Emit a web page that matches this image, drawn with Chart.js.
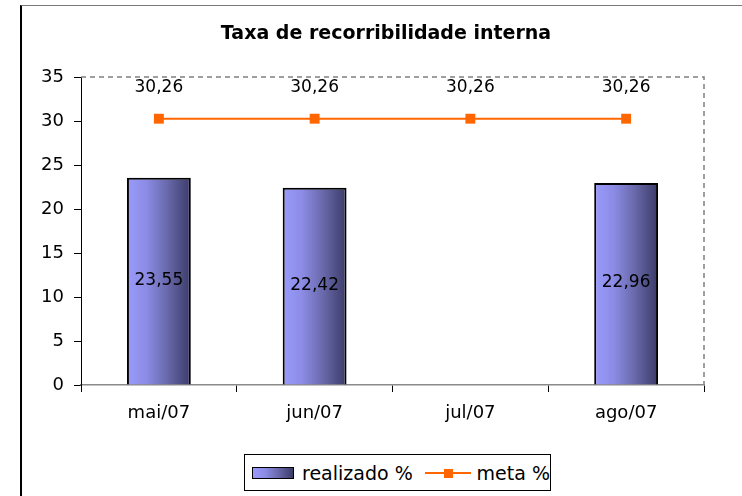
<!DOCTYPE html>
<html>
<head>
<meta charset="utf-8">
<script src="https://cdn.jsdelivr.net/npm/chart.js@4.4.1/dist/chart.umd.min.js"></script>
<style>
html,body{margin:0;padding:0;background:#fff;}
#wrap{position:relative;width:742px;height:496px;overflow:hidden;background:#fff;}
#frame{position:absolute;left:20px;top:5px;width:800px;height:600px;border-left:2px solid #000;border-top:1px solid #7a7a7a;box-sizing:border-box;}
#c{position:absolute;left:0;top:0;}
#legend{position:absolute;left:244px;top:454px;width:307px;height:37px;box-sizing:border-box;border:1px solid #000;background:#fff;font-family:"DejaVu Sans",sans-serif;font-size:19px;color:#000;display:flex;align-items:center;white-space:nowrap;}
.sw{display:inline-block;margin-left:7px;width:43px;height:12px;box-sizing:border-box;border:1.5px solid #000;background:linear-gradient(to right,#9a9afc 0%,#8c8ce6 30%,#6a6aad 62%,#3b3b68 100%);}
.lbl{margin-left:8px;}
.ln{display:inline-block;position:relative;width:47px;height:12px;margin-left:12px;}
.ln:before{content:"";position:absolute;left:0;right:0;top:5px;height:2px;background:#ff6600;}
.ln:after{content:"";position:absolute;left:19px;top:2px;width:9px;height:9px;background:#ff6600;}
</style>
</head>
<body>
<div id="wrap">
  <div id="frame"></div>
  <canvas id="c" width="742" height="496"></canvas>
  <div id="legend"><span class="sw"></span><span class="lbl">realizado %</span><span class="ln"></span><span class="lbl" style="margin-left:6px">meta %</span></div>
</div>
<script>
const chartTitle = 'Taxa de recorribilidade interna';
const categories = ['mai/07', 'jun/07', 'jul/07', 'ago/07'];
const realizado = [23.55, 22.42, null, 22.96];
const meta = [30.26, 30.26, 30.26, 30.26];
const yMin = 0, yMax = 35, yStep = 5;

const FONT = '"DejaVu Sans", sans-serif';
const fmt = v => v.toFixed(2).replace('.', ',');

function barGradient(context) {
  const chart = context.chart;
  const xs = chart.scales && chart.scales.x;
  const area = chart.chartArea;
  if (!xs || !area || context.dataIndex === undefined) return '#8c8ce6';
  const cx = xs.getPixelForValue(context.dataIndex);
  const catW = (area.right - area.left) / categories.length;
  const half = catW * 0.41 / 2;
  const g = chart.ctx.createLinearGradient(cx - half, 0, cx + half, 0);
  g.addColorStop(0, '#9a9afc');
  g.addColorStop(0.3, '#8c8ce6');
  g.addColorStop(0.62, '#6a6aad');
  g.addColorStop(1, '#3b3b68');
  return g;
}

const plotBorder = {
  id: 'plotBorder',
  beforeDatasetsDraw(chart) {
    const {ctx, chartArea: a} = chart;
    ctx.save();
    ctx.strokeStyle = '#808080';
    ctx.lineWidth = 1.5;
    ctx.setLineDash([5, 4]);
    ctx.beginPath();
    ctx.moveTo(a.left, a.top); ctx.lineTo(a.right, a.top); ctx.lineTo(a.right, a.bottom);
    ctx.stroke();
    ctx.restore();
  }
};

const dataLabels = {
  id: 'dataLabels',
  afterDatasetsDraw(chart) {
    const ctx = chart.ctx;
    ctx.save();
    ctx.font = '17px ' + FONT;
    ctx.fillStyle = '#000';
    ctx.textAlign = 'center';
    ctx.textBaseline = 'middle';
    chart.data.datasets.forEach((ds, i) => {
      const metaInfo = chart.getDatasetMeta(i);
      metaInfo.data.forEach((el, j) => {
        const v = ds.data[j];
        if (v === null || v === undefined) return;
        if (ds.type === 'bar') {
          ctx.fillText(fmt(v), el.x, (el.y + el.base) / 2 - 1);
        } else {
          ctx.fillText(fmt(v), el.x, el.y - 31);
        }
      });
    });
    ctx.restore();
  }
};

new Chart(document.getElementById('c'), {
  data: {
    labels: categories,
    datasets: [
      {
        type: 'line',
        label: 'meta %',
        data: meta,
        borderColor: '#ff6600',
        backgroundColor: '#ff6600',
        borderWidth: 2,
        pointStyle: 'rect',
        pointRadius: 7,
        pointBorderWidth: 0,
        tension: 0,
        order: 1
      },
      {
        type: 'bar',
        label: 'realizado %',
        data: realizado,
        backgroundColor: barGradient,
        borderColor: '#000',
        borderWidth: 2,
        barPercentage: 0.41,
        categoryPercentage: 1,
        order: 2
      }
    ]
  },
  options: {
    responsive: false,
    animation: false,
    layout: {padding: {left: 30, right: 0, top: 0, bottom: 0}},
    plugins: {
      legend: {display: false},
      tooltip: {enabled: false},
      title: {
        display: true,
        text: chartTitle,
        color: '#000',
        font: {family: FONT, size: 19, weight: 'bold'},
        padding: {top: 23, bottom: 31.2}
      }
    },
    scales: {
      x: {
        offset: true,
        grid: {display: true, drawOnChartArea: false, drawTicks: true, tickLength: 7, offset: true, color: '#000'},
        border: {display: true, color: '#8a8a8a', width: 1.5},
        ticks: {color: '#000', font: {family: FONT, size: 18}, padding: 11, maxRotation: 0},
        afterFit(s) { s.height = 111; }
      },
      y: {
        min: yMin, max: yMax,
        grid: {display: true, drawOnChartArea: false, drawTicks: true, tickLength: 7, color: '#000'},
        border: {display: true, color: '#000', width: 1},
        ticks: {stepSize: yStep, color: '#000', font: {family: FONT, size: 18}, padding: 10},
        afterFit(s) { s.width = 51; }
      },
      y2: {
        position: 'right',
        display: true,
        min: 0, max: 1,
        grid: {display: false},
        border: {display: false},
        ticks: {display: false},
        afterFit(s) { s.width = 38; }
      }
    }
  },
  plugins: [plotBorder, dataLabels]
});
</script>
</body>
</html>
